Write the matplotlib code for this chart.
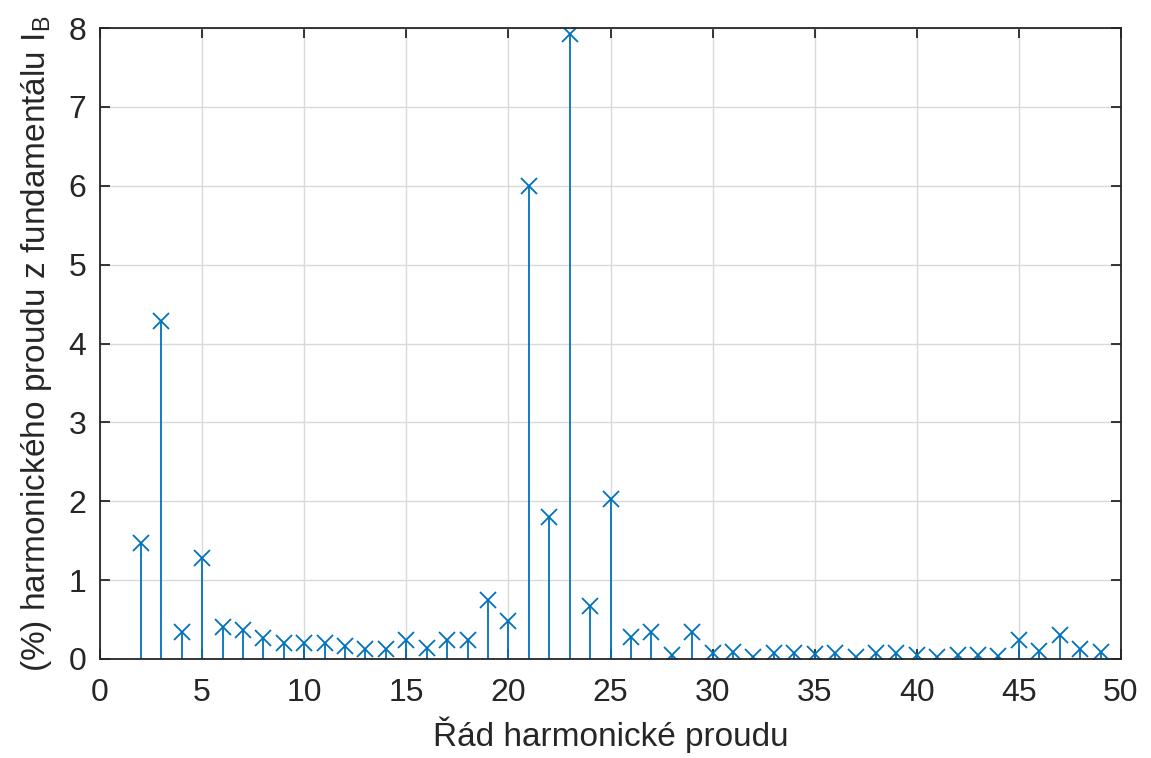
import matplotlib.pyplot as plt

plt.rcParams['font.family'] = ['Liberation Sans', 'DejaVu Sans']

harmonics = list(range(2, 50))
values = [1.47, 4.28, 0.34, 1.28, 0.40, 0.37, 0.27, 0.20, 0.20, 0.20,
          0.16, 0.13, 0.13, 0.24, 0.14, 0.24, 0.24, 0.75, 0.48, 6.00,
          1.80, 7.93, 0.67, 2.03, 0.28, 0.34, 0.05, 0.34, 0.07, 0.09,
          0.03, 0.07, 0.07, 0.06, 0.07, 0.02, 0.07, 0.07, 0.05, 0.03,
          0.05, 0.05, 0.04, 0.24, 0.10, 0.31, 0.13, 0.09]

blue = '#0072BD'
axc = '#262626'

fig = plt.figure(figsize=(11.51, 7.58), dpi=100)
ax = fig.add_axes([100/1151, 1-659/758, 1021/1151, 631/758])

ml, sl, bl = ax.stem(harmonics, values, basefmt=' ')
plt.setp(sl, color=blue, linewidth=1.3)
plt.setp(ml, color=blue, marker='x', markersize=11, markeredgewidth=1.3)

ax.set_xlim(0, 50)
ax.set_ylim(0, 8)
ax.set_xticks(range(0, 51, 5))
ax.set_yticks(range(0, 9))
ax.grid(True, color='#d9d9d9', linewidth=1.0)
ax.set_axisbelow(True)

for s in ax.spines.values():
    s.set_color(axc)
    s.set_linewidth(1.3)
ax.tick_params(direction='in', length=7, width=1.3, colors=axc, labelsize=23,
               top=True, right=True)
ax.tick_params(axis='x', pad=14)
ax.tick_params(axis='y', pad=10)

ax.set_xlabel('Řád harmonické proudu', fontsize=24, color=axc, labelpad=6)
ax.set_ylabel(r'(%) harmonického proudu z fundamentálu I$_\mathregular{B}$',
              fontsize=24, color=axc, labelpad=10)

fig.savefig('out.png', dpi=100)
